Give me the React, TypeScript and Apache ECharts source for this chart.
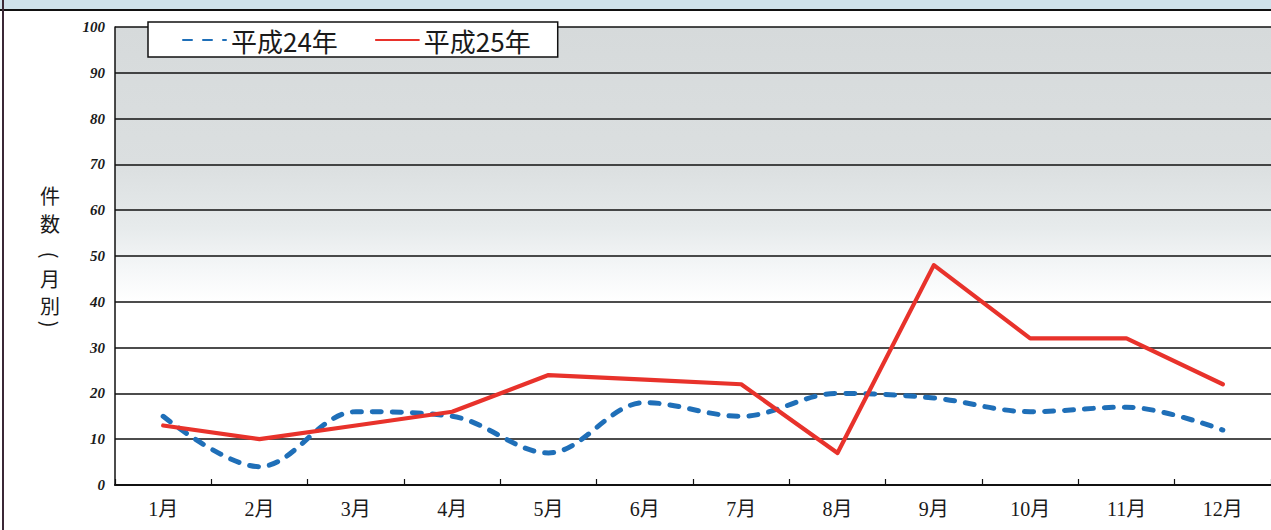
import React, { useEffect, useRef } from "react";
import * as echarts from "echarts";

const months = ["1月", "2月", "3月", "4月", "5月", "6月", "7月", "8月", "9月", "10月", "11月", "12月"];
const seriesNames = ["平成24年", "平成25年"];
const h24Counts = [15, 4, 16, 15, 7, 18, 15, 20, 19, 16, 17, 12];
const h25Counts = [13, 10, 13, 16, 24, 23, 22, 7, 48, 32, 32, 22];
const yTicks = { min: 0, max: 100, interval: 10 };

// vertical axis title: characters stacked top to bottom, brackets turned sideways
const axisTitle = [
  { ch: "件", y: 195, rot: 0 },
  { ch: "数", y: 223, rot: 0 },
  { ch: "(", y: 255, rot: -Math.PI / 2 },
  { ch: "月", y: 278, rot: 0 },
  { ch: "別", y: 305, rot: 0 },
  { ch: ")", y: 324, rot: -Math.PI / 2 },
];

export default function App() {
  const ref = useRef<HTMLDivElement>(null);

  useEffect(() => {
    if (!ref.current) return;
    const chart = echarts.init(ref.current, undefined, { renderer: "svg" });

    chart.setOption({
      animation: false,
      backgroundColor: "#ffffff",
      grid: {
        left: 115,
        top: 27,
        right: -4,
        bottom: 45,
        show: true,
        borderWidth: 0,
        backgroundColor: new echarts.graphic.LinearGradient(0, 0, 0, 1, [
          { offset: 0, color: "#d6dadb" },
          { offset: 0.3, color: "#dbdfe0" },
          { offset: 0.44, color: "#e7ebec" },
          { offset: 0.53, color: "#f5f7f8" },
          { offset: 0.6, color: "#ffffff" },
          { offset: 1, color: "#ffffff" },
        ]),
      },
      legend: {
        data: seriesNames,
        left: 148,
        top: 22,
        backgroundColor: "#ffffff",
        borderColor: "#111111",
        borderWidth: 1.5,
        borderRadius: 0,
        padding: [5, 27, 4, 34],
        itemWidth: 43,
        itemHeight: 14,
        itemGap: 37,
        itemStyle: { opacity: 0 },
        textStyle: {
          fontSize: 26,
          color: "#1a1a1a",
          fontFamily: "'Noto Sans CJK JP', 'Noto Sans', sans-serif",
        },
      },
      xAxis: {
        type: "category",
        data: months,
        boundaryGap: true,
        axisLine: { show: true, lineStyle: { color: "#111111", width: 2 } },
        axisTick: { show: true, inside: true, length: 6, lineStyle: { color: "#111111", width: 1.2 } },
        axisLabel: {
          color: "#1a1a1a",
          fontSize: 20,
          margin: 14,
          fontFamily: "'Liberation Serif', 'Noto Sans CJK JP', serif",
        },
        splitLine: { show: false },
      },
      yAxis: {
        type: "value",
        min: yTicks.min,
        max: yTicks.max,
        interval: yTicks.interval,
        axisLine: { show: true, lineStyle: { color: "#111111", width: 1.5 } },
        axisTick: { show: false },
        axisLabel: {
          color: "#1a1a1a",
          fontSize: 15,
          fontStyle: "italic",
          fontWeight: "bold",
          margin: 10,
          fontFamily: "'Liberation Serif', 'DejaVu Serif', serif",
        },
        splitLine: { show: true, lineStyle: { color: "#111111", width: 1.5 } },
      },
      series: [
        {
          name: seriesNames[0],
          type: "line",
          data: h24Counts,
          smooth: 0.35,
          symbol: "none",
          color: "#1f6fb8",
          lineStyle: { color: "#1f6fb8", width: 5, type: [9, 11], cap: "round" },
          z: 3,
        },
        {
          name: seriesNames[1],
          type: "line",
          data: h25Counts,
          symbol: "none",
          color: "#e8322b",
          lineStyle: { color: "#e8322b", width: 4.2, cap: "round", join: "round" },
          z: 4,
        },
      ],
      graphic: [
        {
          type: "rect",
          shape: { x: 0, y: 0, width: 1271, height: 10 },
          style: { fill: "#cfe2ea" },
          silent: true,
          z: 0,
        },
        {
          type: "line",
          shape: { x1: 0, y1: 10, x2: 1271, y2: 10 },
          style: { stroke: "#111111", lineWidth: 2 },
          silent: true,
        },
        {
          type: "line",
          shape: { x1: 3, y1: 0, x2: 3, y2: 530 },
          style: { stroke: "#3b2836", lineWidth: 2 },
          silent: true,
        },
        ...axisTitle.map((t) => ({
          type: "text",
          x: 50,
          y: t.y,
          rotation: t.rot,
          style: {
            text: t.ch,
            fontSize: 20,
            fill: "#1a1a1a",
            fontFamily: "'Noto Sans CJK JP', sans-serif",
            align: "center",
            verticalAlign: "middle",
          },
          silent: true,
        })),
      ],
    });

    return () => chart.dispose();
  }, []);

  return (
    <div
      ref={ref}
      style={{ position: "fixed", left: 0, top: 0, width: 1271, height: 530 }}
    />
  );
}
